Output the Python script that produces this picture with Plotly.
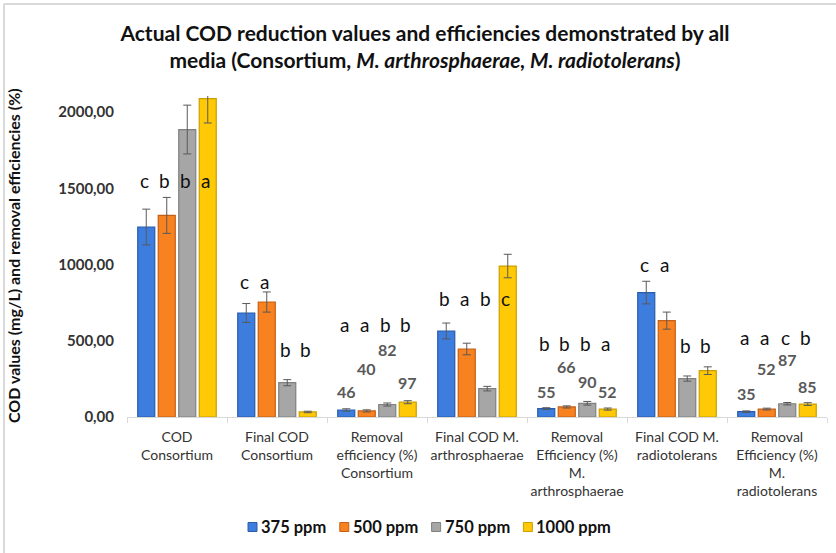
import plotly.graph_objects as go

# Categories shown along the x axis
categories = [
    "COD<br>Consortium",
    "Final COD<br>Consortium",
    "Removal<br>efficiency (%)<br>Consortium",
    "Final COD M.<br>arthrosphaerae",
    "Removal<br>Efficiency (%)<br>M.<br>arthrosphaerae",
    "Final COD M.<br>radiotolerans",
    "Removal<br>Efficiency (%)<br>M.<br>radiotolerans",
]

series_names = ["375 ppm", "500 ppm", "750 ppm", "1000 ppm"]

# Mean values per concentration
values_375 = [1246, 682, 46, 564, 55, 816, 35]
values_500 = [1322, 754, 40, 446, 66, 632, 52]
values_750 = [1885, 225, 82, 186, 90, 252, 87]
values_1000 = [2088, 33, 97, 990, 52, 304, 85]

# Standard deviations
err_375 = [117, 62, 8, 52, 6, 74, 5]
err_500 = [118, 66, 7, 38, 7, 56, 6]
err_750 = [160, 20, 10, 15, 12, 17, 8]
err_1000 = [160, 5, 10, 77, 7, 25, 9]

# Significance letters per concentration
letters_375 = ["c", "c", "a", "b", "b", "c", "a"]
letters_500 = ["b", "a", "a", "a", "b", "a", "a"]
letters_750 = ["b", "b", "b", "b", "b", "b", "c"]
letters_1000 = ["a", "b", "b", "c", "a", "b", "b"]

# Height (axis units) at which each letter is written
letter_y_375 = [1549, 889, 608, 776, 485, 1001, 521]
letter_y_500 = [1549, 889, 608, 776, 485, 1001, 521]
letter_y_750 = [1549, 444, 608, 776, 485, 466, 521]
letter_y_1000 = [1549, 444, 608, 776, 485, 466, 521]

# Removal efficiency percentages, written above the efficiency bars
efficiency_categories = [2, 4, 6]
eff_labels = {
    2: [46, 40, 82, 97],
    4: [55, 66, 90, 52],
    6: [35, 52, 87, 85],
}
eff_label_y = {
    2: [164, 319, 444, 223],
    4: [169, 332, 234, 170],
    6: [153, 321, 378, 201],
}

tick_vals = [0, 500, 1000, 1500, 2000]
tick_text = ["0,00", "500,00", "1000,00", "1500,00", "2000,00"]

values = [values_375, values_500, values_750, values_1000]
errors = [err_375, err_500, err_750, err_1000]
letters = [letters_375, letters_500, letters_750, letters_1000]
letter_ys = [letter_y_375, letter_y_500, letter_y_750, letter_y_1000]

fills = ["#3C7DDE", "#F7821F", "#A6A6A6", "#FFC905"]
edges = ["#2A5CAA", "#C2601A", "#808080", "#C9A000"]

FONT = "Lato"

# Plot-area geometry in pixels (used to place the legend and frame)
PLOT_L, PLOT_R, PLOT_T, PLOT_B = 127, 827, 96, 417
PW, PH = PLOT_R - PLOT_L, PLOT_B - PLOT_T


def px_x(px):
    return (px - PLOT_L) / PW


def px_y(py):
    return (PLOT_B - py) / PH


fig = go.Figure()
for name, v, e, fc, ec in zip(series_names, values, errors, fills, edges):
    fig.add_trace(go.Bar(
        name=name,
        x=categories,
        y=v,
        marker=dict(color=fc, line=dict(color=ec, width=1.2)),
        error_y=dict(type="data", array=e, visible=True,
                     color="#595959", thickness=1, width=4),
        showlegend=False,
    ))

# Slot offsets (px) of the four bars within a category
bar_shift = [-30.75, -10.25, 10.25, 30.75]

annotations = []
for s in range(4):
    for i, cat in enumerate(categories):
        annotations.append(dict(
            x=cat, y=letter_ys[s][i], xref="x", yref="y",
            text=letters[s][i], showarrow=False, xshift=bar_shift[s] - 2,
            font=dict(family=FONT, size=19, color="#111111"),
        ))

for ci in efficiency_categories:
    for s in range(4):
        annotations.append(dict(
            x=categories[ci], y=eff_label_y[ci][s], xref="x", yref="y",
            text=f"<b>{eff_labels[ci][s]}</b>", showarrow=False,
            xshift=bar_shift[s],
            font=dict(family=FONT, size=16, color="#595959"),
        ))

# Y axis title
annotations.append(dict(
    x=px_x(13), y=px_y(256), xref="paper", yref="paper",
    text="<b>COD values (mg/L) and removal efficiencies (%)</b>",
    textangle=-90, showarrow=False, xanchor="center", yanchor="middle",
    font=dict(family=FONT, size=16, color="#111111"),
))

# Legend row: small swatch followed by the series name
shapes = []
LEG_X0, LEG_STEP, LEG_Y, SW = 248, 91.8, 527, 9
for s, name in enumerate(series_names):
    left = LEG_X0 + s * LEG_STEP
    shapes.append(dict(
        type="rect", xref="paper", yref="paper",
        x0=px_x(left), x1=px_x(left + SW),
        y0=px_y(LEG_Y + SW / 2), y1=px_y(LEG_Y - SW / 2),
        fillcolor=fills[s], line=dict(color=edges[s], width=1),
    ))
    annotations.append(dict(
        x=px_x(left + SW + 2), y=px_y(LEG_Y), xref="paper", yref="paper",
        text=f"<b>{name}</b>", showarrow=False,
        xanchor="left", yanchor="middle",
        font=dict(family=FONT, size=16.5, color="#111111"),
    ))

# Chart frame (top and left edges)
shapes += [
    dict(type="line", xref="paper", yref="paper", x0=px_x(4), x1=px_x(840),
         y0=px_y(4), y1=px_y(4), line=dict(color="#D9D9D9", width=2)),
    dict(type="line", xref="paper", yref="paper", x0=px_x(4), x1=px_x(4),
         y0=px_y(560), y1=px_y(4), line=dict(color="#D9D9D9", width=2)),
]

fig.update_layout(
    width=836, height=553,
    margin=dict(l=PLOT_L, r=836 - PLOT_R, t=PLOT_T, b=553 - PLOT_B,
                autoexpand=False),
    paper_bgcolor="white", plot_bgcolor="white",
    barmode="group", bargap=0.18, bargroupgap=0.17,
    title=dict(
        text="<b>Actual COD reduction values and efficiencies demonstrated by all<br>"
             "media (Consortium, <i>M. arthrosphaerae, M. radiotolerans</i>)</b>",
        x=425 / 836, xanchor="center", y=1 - 41 / 553, yanchor="middle",
        font=dict(family=FONT, size=21, color="#111111"),
    ),
    xaxis=dict(
        showline=True, linecolor="#D9D9D9", linewidth=1,
        ticks="outside", tickson="boundaries", ticklen=5, tickcolor="#D9D9D9",
        tickfont=dict(family=FONT, size=14, color="#333333"),
        tickangle=0, automargin=False,
        showgrid=False, ticklabelstandoff=7,
    ),
    yaxis=dict(
        range=[0, 2105], showgrid=False, showline=False, zeroline=False,
        tickvals=tick_vals, ticktext=tick_text, ticks="",
        tickfont=dict(family=FONT, size=15, color="#333333", weight="bold"),
        ticklabelstandoff=12, automargin=False,
    ),
    annotations=annotations,
    shapes=shapes,
    showlegend=False,
)

fig.write_html("out.html")
